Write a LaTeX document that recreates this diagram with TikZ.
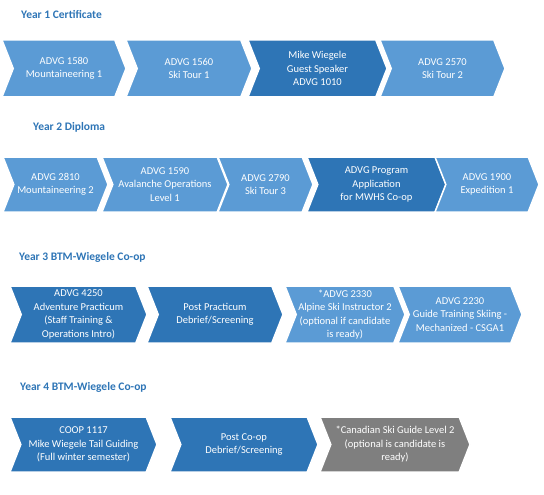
\documentclass[tikz,border=0pt]{standalone}
\usepackage{fontspec}
\setmainfont{Carlito}
\usetikzlibrary{shapes.symbols, positioning}
\definecolor{cLight}{RGB}{91,155,213}
\definecolor{cDark}{RGB}{46,117,182}
\definecolor{cGrey}{RGB}{127,127,127}
\definecolor{cTitle}{RGB}{46,117,182}

\begin{document}
\begin{tikzpicture}[x=1pt, y=-1pt,
        chev/.style={signal, signal from=west, signal to=east, signal pointer angle=137,
        draw=white, line width=1.5pt, inner sep=0pt, align=center, text=white,
        font=\fontsize{10.5}{13.4}\selectfont},
        yeartitle/.style={anchor=west, font=\fontsize{11.5}{13}\selectfont\bfseries, text=cTitle, inner sep=0pt}
    ]
        \useasboundingbox (0,0) rectangle (544,495);

        % --- Year 1 ---
        \node[yeartitle] (t1) at (21,14) {Year 1 Certificate};
        \node[chev, fill=cLight, minimum width=124pt, minimum height=57pt] (y1a) at (64,68.5) {ADVG 1580\\Mountaineering 1};
        \node[chev, fill=cLight, minimum width=126pt, minimum height=57pt] (y1b) at (189,68.5) {ADVG 1560\\Ski Tour 1};
        \node[chev, fill=cDark,  minimum width=139pt, minimum height=57pt] (y1c) at (317.5,68.5) {Mike Wiegele\\Guest Speaker\\ADVG 1010};
        \node[chev, fill=cLight, minimum width=125pt, minimum height=57pt] (y1d) at (442.5,68.5) {ADVG 2570\\Ski Tour 2};

        % --- Year 2 ---
        \node[yeartitle] (t2) at (33,127) {Year 2 Diploma};
        \node[chev, fill=cLight, minimum width=105pt, minimum height=55pt] (y2a) at (55.5,184.5) {ADVG 2810\\Mountaineering 2};
        \node[chev, fill=cLight, minimum width=126pt, minimum height=55pt] (y2b) at (165,184.5) {ADVG 1590\\Avalanche Operations\\Level 1};
        \node[chev, fill=cLight, minimum width=95pt,  minimum height=55pt] (y2c) at (265.5,184.5) {ADVG 2790\\Ski Tour 3};
        \node[chev, fill=cDark,  minimum width=139pt, minimum height=55pt] (y2d) at (376.5,184.5) {ADVG Program\\Application\\for MWHS Co-op};
        \node[chev, fill=cLight, minimum width=104pt, minimum height=55pt] (y2e) at (487,184.5) {ADVG 1900\\Expedition 1};

        % --- Year 3 ---
        \node[yeartitle] (t3) at (19,257) {Year 3 BTM-Wiegele Co-op};
        \node[chev, fill=cDark,  minimum width=137pt, minimum height=57pt] (y3a) at (78.5,314.5) {ADVG 4250\\Adventure Practicum\\(Staff Training \&\\Operations Intro)};
        \node[chev, fill=cDark,  minimum width=136pt, minimum height=57pt] (y3b) at (215,314.5) {Post Practicum\\Debrief/Screening};
        \node[chev, fill=cLight, minimum width=120pt, minimum height=57pt] (y3c) at (345,314.5) {*ADVG 2330\\Alpine Ski Instructor 2\\(optional if candidate\\is ready)};
        \node[chev, fill=cLight, minimum width=124pt, minimum height=57pt] (y3d) at (460,314.5) {ADVG 2230\\Guide Training Skiing -\\Mechanized - CSGA1};

        % --- Year 4 ---
        \node[yeartitle] (t4) at (20,387) {Year 4 BTM-Wiegele Co-op};
        \node[chev, fill=cDark, minimum width=147pt, minimum height=55pt] (y4a) at (83.5,444.5) {COOP 1117\\Mike Wiegele Tail Guiding\\(Full winter semester)};
        \node[chev, fill=cDark, minimum width=148pt, minimum height=55pt] (y4b) at (244,444.5) {Post Co-op\\Debrief/Screening};
        \node[chev, fill=cGrey, minimum width=150pt, minimum height=55pt] (y4c) at (395,444.5) {*Canadian Ski Guide Level 2\\(optional is candidate is\\ready)};

    \end{tikzpicture}
\end{document}
